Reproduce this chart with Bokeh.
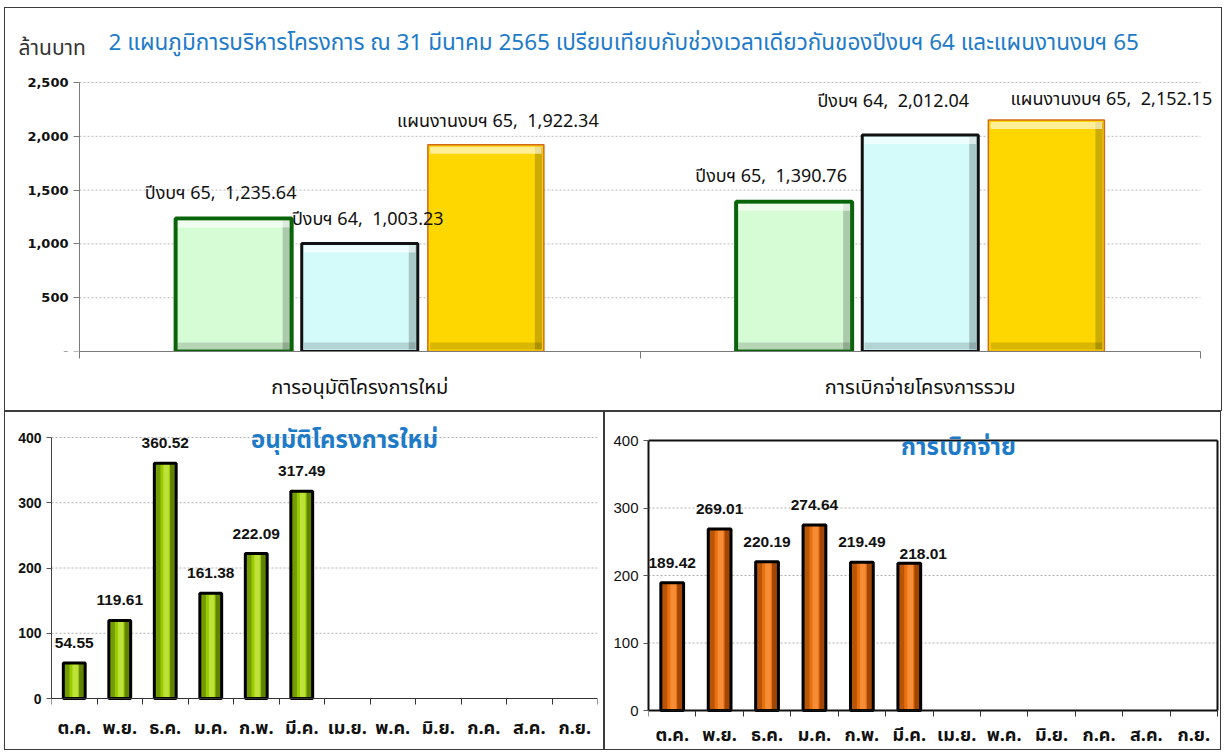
from bokeh.plotting import figure
from bokeh.models import (Range1d, FixedTicker, NumeralTickFormatter, Label,
                          ColumnDataSource, LabelSet)
from bokeh.layouts import column, row
from bokeh.embed import file_html
from bokeh.resources import INLINE
from bokeh.core.properties import value

# ---------------- data ----------------
categories = ["การอนุมัติโครงการใหม่", "การเบิกจ่ายโครงการรวม"]
series_names = ["ปีงบฯ 65", "ปีงบฯ 64", "แผนงานงบฯ 65"]
fy65 = [1235.64, 1390.76]
fy64 = [1003.23, 2012.04]
plan65 = [1922.34, 2152.15]
top_ticks = [0, 500, 1000, 1500, 2000, 2500]

months = ["ต.ค.", "พ.ย.", "ธ.ค.", "ม.ค.", "ก.พ.", "มี.ค.",
          "เม.ย.", "พ.ค.", "มิ.ย.", "ก.ค.", "ส.ค.", "ก.ย."]
approve = [54.55, 119.61, 360.52, 161.38, 222.09, 317.49]
disburse = [189.42, 269.01, 220.19, 274.64, 219.49, 218.01]
month_ticks = [0, 100, 200, 300, 400]

main_title = "2 แผนภูมิการบริหารโครงการ ณ 31 มีนาคม 2565 เปรียบเทียบกับช่วงเวลาเดียวกันของปีงบฯ 64 และแผนงานงบฯ 65"
unit_label = "ล้านบาท"
title_left = "อนุมัติโครงการใหม่"
title_right = "การเบิกจ่าย"

# ---------------- styles ----------------
THAI = "Tahoma, 'Noto Sans Thai', 'Noto Sans', sans-serif"
NUM_B = "'DejaVu Sans', sans-serif"
ARIAL = "'Liberation Sans', Arial, sans-serif"
BLUE = "#1E7BC8"
BORDER = {"border": "1px solid #3c3c3c"}

series_fill = ["#D6FCD6", "#D4FAFA", "#FFD700"]
series_line = ["#0A640A", "#111111", "#D2691E"]
series_lw = [4, 3, 1.5]
series_dx = [-0.225, 0.0, 0.225]
label_dx = [[-13, -23], [8, -27], [12, 65]]
label_dy = [[25, 25], [24, 34], [23, 20]]
bar_w = 0.207

# top chart geometry (pixels)
TOP_W, TOP_H = 1218, 404
T_LEFT, T_RIGHT_B, T_BOTTOM_B, T_PLOT_TOP = 74, 23, 61, 74
px_x = (TOP_W - T_LEFT - T_RIGHT_B) / 2.0          # px per category
px_y = (TOP_H - T_BOTTOM_B - T_PLOT_TOP) / 2500.0  # px per unit
frame_h = TOP_H - T_BOTTOM_B

# ---------------- top chart ----------------
top = figure(width=TOP_W, height=TOP_H,
             x_range=Range1d(-T_LEFT / px_x, 2 + T_RIGHT_B / px_x),
             y_range=Range1d(0, frame_h / px_y),
             output_backend="svg", toolbar_location=None,
             min_border_left=0, min_border_right=0, min_border_top=0,
             min_border_bottom=T_BOTTOM_B)
top.styles = BORDER
top.outline_line_color = None
top.xgrid.grid_line_color = None
top.ygrid.grid_line_color = None
gt = top_ticks[1:]
top.segment(x0=[0] * len(gt), x1=[2] * len(gt), y0=gt, y1=gt,
            line_color="#B8B8B8", line_dash="2 2", line_width=1)

series_vals = [fy65, fy64, plan65]
for k, vals in enumerate(series_vals):
    xs = [i + 0.5 + series_dx[k] for i in range(len(categories))]
    texts = [f"{series_names[k]},\u00a0\u00a0{v:,.2f}" for v in vals]
    src = ColumnDataSource(dict(x=xs, top=vals, text=texts,
                                dx=label_dx[k], dy=label_dy[k]))
    top.vbar(x="x", top="top", width=bar_w, bottom=0, source=src,
             fill_color=series_fill[k], line_color=series_line[k], line_width=series_lw[k])
    # bevel shading derived from the same bars
    bw = 9 / px_x
    bh = 9 / px_y
    e = 2 / px_y
    rights = [x + bar_w / 2 for x in xs]
    lefts = [x - bar_w / 2 for x in xs]
    top.quad(left=[r - bw for r in rights], right=[r - 0.003 for r in rights],
             bottom=[e] * len(vals), top=[v - e for v in vals],
             fill_color="black", fill_alpha=0.2, line_color=None)
    top.quad(left=[l + 0.004 for l in lefts], right=[r - 0.004 for r in rights],
             bottom=[v - bh for v in vals], top=[v - e for v in vals],
             fill_color="white", fill_alpha=0.6, line_color=None)
    top.quad(left=[l + 0.004 for l in lefts], right=[r - 0.004 for r in rights],
             bottom=[e] * len(vals), top=[bh] * len(vals),
             fill_color="black", fill_alpha=0.15, line_color=None)
    top.add_layout(LabelSet(x="x", y="top", text="text", source=src,
                            x_offset="dx", y_offset="dy",
                            text_align="center", text_baseline="middle",
                            text_font=value(THAI), text_font_size="18px",
                            text_color="#111111"))

top.yaxis.fixed_location = 0
top.yaxis.bounds = (0, 2500)
top.yaxis.ticker = FixedTicker(ticks=top_ticks)
top.yaxis.formatter = NumeralTickFormatter(format="0,0")
top.yaxis.major_label_overrides = {0: "-"}
top.yaxis.major_label_text_font = NUM_B
top.yaxis.major_label_text_font_style = "bold"
top.yaxis.major_label_text_font_size = "13px"
top.yaxis.major_label_text_color = "#111111"
top.yaxis.axis_line_color = "#7a7a7a"
top.yaxis.major_tick_line_color = "#7a7a7a"
top.yaxis.major_tick_out = 6
top.yaxis.major_tick_in = 0
top.yaxis.minor_tick_line_color = None

top.xaxis.bounds = (0, 2)
top.xaxis.ticker = FixedTicker(ticks=[i + 0.5 for i in range(len(categories))],
                               minor_ticks=list(range(len(categories) + 1)))
top.xaxis.major_label_overrides = {i + 0.5: c for i, c in enumerate(categories)}
top.xaxis.major_tick_line_color = None
top.xaxis.major_tick_out = 0
top.xaxis.minor_tick_line_color = "#7a7a7a"
top.xaxis.minor_tick_out = 7
top.xaxis.minor_tick_in = 0
top.xaxis.axis_line_color = "#7a7a7a"
top.xaxis.major_label_text_font = THAI
top.xaxis.major_label_text_font_size = "20px"
top.xaxis.major_label_text_color = "#111111"
top.xaxis.major_label_standoff = 14

top.add_layout(Label(x=0, y=2500, x_offset=29, y_offset=40, text=main_title,
                     text_font=THAI, text_font_size="22.5px", text_color=BLUE,
                     text_baseline="middle", text_align="left"))
top.add_layout(Label(x=0, y=2500, x_offset=-61, y_offset=34, text=unit_label,
                     text_font=THAI, text_font_size="21px", text_color="#333333",
                     text_baseline="middle", text_align="left"))


# ---------------- bottom charts ----------------
BOT_H = 339


def month_chart(vals, width, b_left, b_right, y400, y0, lab_gap, fill, dark, light,
                title, title_dx, title_dy, bold_y, frame, ldx, ldy):
    """y400 / y0: pixel rows (from canvas top) of the 400 and 0 values."""
    n = len(months)
    ppu = (y0 - y400) / 400.0
    y_start = -(BOT_H - y0) / ppu
    y_end = 400 + y400 / ppu
    frame_w = width - b_left - b_right
    if frame:
        ppx = (frame_w - 5) / n
        x_end = frame_w / ppx
    else:
        x_end = n
    p = figure(width=width, height=BOT_H, x_range=Range1d(0, x_end),
               y_range=Range1d(y_start, y_end),
               output_backend="svg", toolbar_location=None,
               min_border_left=b_left, min_border_right=b_right,
               min_border_top=0, min_border_bottom=0)
    p.styles = BORDER
    p.outline_line_color = None
    p.xgrid.grid_line_color = None
    p.ygrid.grid_line_color = None
    gl = month_ticks[1:]
    p.segment(x0=[0] * len(gl), x1=[n] * len(gl), y0=gl, y1=gl,
              line_color="#B0B0B0", line_dash="2 2", line_width=1)
    if frame:
        p.segment(x0=[0, n], x1=[n, n], y0=[400, 0], y1=[400, 400],
                  line_color="#111111", line_width=2)

    xs = [i + 0.5 for i in range(len(vals))]
    w = 0.48
    src = ColumnDataSource(dict(x=xs, top=vals, text=[f"{v:.2f}" for v in vals],
                                dx=ldx, dy=ldy))
    p.vbar(x="x", top="top", width=w, bottom=0, source=src,
           fill_color=fill, line_color=None)
    # cylinder-like shading
    p.vbar(x=[x - w * 0.36 for x in xs], top=vals, width=w * 0.28, bottom=0,
           fill_color=dark, fill_alpha=0.5, line_color=None)
    p.vbar(x=[x + w * 0.36 for x in xs], top=vals, width=w * 0.28, bottom=0,
           fill_color=dark, fill_alpha=0.75, line_color=None)
    p.vbar(x=[x + 0.02 for x in xs], top=vals, width=w * 0.25, bottom=0,
           fill_color=light, fill_alpha=0.6, line_color=None)
    p.vbar(x="x", top="top", width=w, bottom=0, source=src,
           fill_color=None, line_color="black", line_width=3)
    p.add_layout(LabelSet(x="x", y="top", text="text", source=src,
                          x_offset="dx", y_offset="dy", text_align="center",
                          text_baseline="middle", text_font=value(ARIAL),
                          text_font_style="bold", text_font_size="15.5px",
                          text_color="#111111"))

    # month category labels under the zero line
    mx = [i + 0.5 for i in range(n)]
    p.text(x=mx, y=[-lab_gap / ppu] * n, text=months, text_align="center",
           text_baseline="middle", text_font=value(THAI), text_font_style="bold",
           text_font_size="18px", text_color="#111111")

    p.yaxis.bounds = (0, 400)
    p.yaxis.ticker = FixedTicker(ticks=month_ticks)
    p.yaxis.major_label_text_font = ARIAL
    p.yaxis.major_label_text_font_style = "bold" if bold_y else "normal"
    p.yaxis.major_label_text_font_size = "14px" if bold_y else "15px"
    p.yaxis.major_label_text_color = "#111111"
    p.yaxis.axis_line_color = "#444444" if not frame else "#111111"
    p.yaxis.axis_line_width = 1 if not frame else 2
    p.yaxis.major_tick_line_color = "#555555"
    p.yaxis.major_tick_out = 5
    p.yaxis.major_tick_in = 0
    p.yaxis.minor_tick_line_color = None

    p.xaxis.fixed_location = 0
    p.xaxis.bounds = (0, n)
    p.xaxis.ticker = FixedTicker(ticks=[], minor_ticks=list(range(n + 1)))
    p.xaxis.major_tick_line_color = None
    p.xaxis.minor_tick_line_color = "#333333"
    p.xaxis.minor_tick_out = 6
    p.xaxis.minor_tick_in = 0
    p.xaxis.axis_line_color = "#333333" if not frame else "#111111"
    p.xaxis.axis_line_width = 2 if frame else 1

    p.add_layout(Label(x=0, y=400, x_offset=title_dx, y_offset=title_dy, text=title,
                       text_font=THAI, text_font_style="bold",
                       text_font_size="24px", text_color=BLUE,
                       text_baseline="middle", text_align="center"))
    return p


left = month_chart(approve, 600, 46, 8, 25, 286, 30, "#99CC00", "#4F6B00", "#D8F060",
                   title_left, 293, -3, True, False,
                   [0, 0, 0, 0, 0, 0], [20, 20, 20, 20, 20, 20])
right = month_chart(disburse, 617, 43, 0, 28, 298, 25, "#E8700F", "#8A3A00", "#FFA050",
                    title_right, 310, -7, False, True,
                    [0, 0, 0, 0, 0, 14], [20, 20, 20, 20, 20, 9])

layout = column(top, row(left, right), margin=(7, 0, 0, 4))
open("out.html", "w").write(file_html(layout, INLINE))
